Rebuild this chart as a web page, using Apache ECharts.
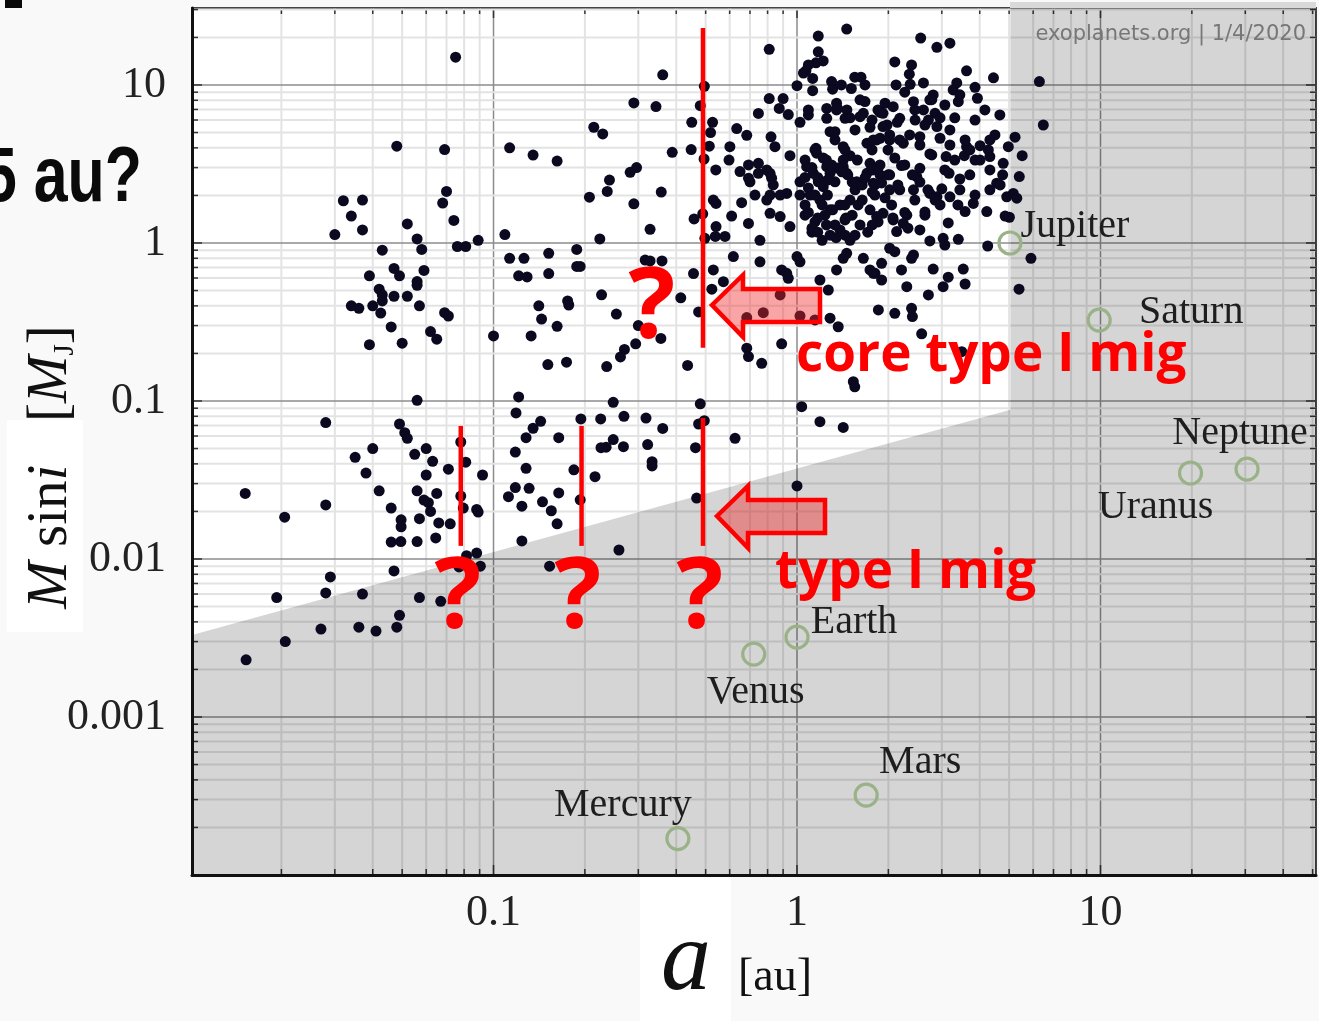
<!DOCTYPE html>
<html>
<head>
<meta charset="utf-8">
<script src="https://cdn.jsdelivr.net/npm/echarts@6/dist/echarts.min.js"></script>
<style>
  html, body { margin: 0; padding: 0; background: #f9f9f9; }
  #chart { width: 1319px; height: 1021px; }
</style>
</head>
<body>
<div id="chart"></div>
<script>
// Known exoplanets: [semi-major axis a (au), M sin i (Jupiter masses)]
const exoplanets = [
  [0.075,15],[0.048,4.1],[0.069,3.9],[0.032,1.85],[0.037,1.87],[0.034,1.48],[0.030,1.13],[0.037,1.21],[0.052,1.32],[0.070,2.12],
  [0.068,1.79],[0.074,1.39],[0.056,1.06],[0.058,0.91],[0.043,0.90],[0.076,0.95],[0.081,0.95],[0.089,1.04],[0.059,0.67],[0.047,0.69],
  [0.049,0.62],[0.039,0.62],[0.056,0.57],[0.056,0.54],[0.042,0.51],[0.043,0.47],[0.043,0.43],[0.047,0.46],[0.052,0.46],[0.034,0.40],
  [0.036,0.386],[0.040,0.40],[0.0425,0.36],[0.057,0.40],[0.069,0.362],[0.071,0.345],[0.046,0.294],[0.062,0.275],[0.065,0.246],[0.039,0.227],
  [0.050,0.232],[0.100,0.258],
  [0.056,0.101],[0.028,0.073],[0.049,0.0715],[0.051,0.063],[0.052,0.058],[0.078,0.055],[0.040,0.050],[0.060,0.050],[0.035,0.044],[0.055,0.046],
  [0.063,0.0415],[0.081,0.041],[0.038,0.035],[0.071,0.037],[0.060,0.034],[0.092,0.034],[0.0152,0.026],[0.042,0.027],[0.056,0.027],[0.065,0.026],
  [0.059,0.0236],[0.061,0.0227],[0.062,0.020],[0.078,0.025],[0.0795,0.021],[0.088,0.0206],[0.089,0.0198],[0.028,0.022],[0.0205,0.0184],[0.046,0.021],
  [0.057,0.018],[0.0496,0.0177],[0.0496,0.016],[0.066,0.0169],[0.072,0.0167],[0.046,0.0128],[0.0495,0.0129],[0.056,0.0129],[0.0645,0.0136],[0.0815,0.0105],
  [0.088,0.0109],[0.077,0.0089],[0.0905,0.009],[0.047,0.0084],[0.029,0.0077],[0.0193,0.0057],[0.028,0.0061],[0.037,0.006],[0.057,0.0057],[0.067,0.0054],
  [0.049,0.0044],[0.027,0.0036],[0.036,0.0037],[0.041,0.0035],[0.048,0.0037],[0.0206,0.003],[0.0153,0.0023],
  [0.361,11.6],[0.495,9.8],[0.29,7.7],[0.343,7.3],[0.48,7.4],[0.45,5.8],[0.527,5.8],[0.519,5.0],[0.214,5.4],[0.229,4.9],
  [0.113,4.0],[0.135,3.6],[0.162,3.3],[0.514,4.1],[0.448,3.9],[0.388,3.75],[0.494,3.4],[0.296,3.0],[0.282,2.8],[0.54,2.9],
  [0.241,2.5],[0.237,2.12],[0.357,2.1],[0.207,1.95],[0.29,1.77],[0.53,1.87],[0.541,1.78],[0.489,1.53],[0.458,1.42],[0.541,1.27],
  [0.538,1.10],[0.497,1.07],[0.328,1.22],[0.109,1.13],[0.224,1.06],[0.188,0.91],[0.113,0.80],[0.126,0.80],[0.152,0.86],[0.188,0.71],
  [0.193,0.71],[0.316,0.78],[0.328,0.77],[0.359,0.77],[0.121,0.62],[0.129,0.61],[0.152,0.64],[0.456,0.64],[0.524,0.51],[0.227,0.47],
  [0.414,0.45],[0.141,0.40],[0.1755,0.43],[0.177,0.405],[0.144,0.33],[0.162,0.297],[0.254,0.355],[0.474,0.366],[0.133,0.258],[0.30,0.30],
  [0.294,0.23],[0.356,0.249],[0.27,0.212],[0.262,0.19],
  [0.151,0.17],[0.174,0.176],[0.236,0.165],[0.436,0.168],[0.121,0.106],[0.1186,0.084],[0.248,0.098],[0.48,0.096],[0.143,0.0744],[0.135,0.0672],
  [0.194,0.077],[0.2255,0.077],[0.269,0.080],[0.318,0.078],[0.361,0.067],[0.474,0.0715],[0.495,0.075],[0.128,0.0586],[0.164,0.0586],[0.248,0.057],
  [0.235,0.051],[0.226,0.0506],[0.268,0.0514],[0.322,0.053],[0.463,0.0506],[0.118,0.0475],[0.333,0.0413],[0.333,0.0388],[0.128,0.0375],[0.184,0.0367],
  [0.216,0.0332],[0.118,0.0283],[0.131,0.028],[0.112,0.0248],[0.164,0.0262],[0.124,0.0216],[0.145,0.023],[0.155,0.0202],[0.193,0.0237],[0.162,0.0167],
  [0.467,0.0243],[0.124,0.013],[0.259,0.0114],[0.153,0.009],
  [1.458,22.6],[1.175,20.4],[0.81,16.8],[1.175,16.2],[1.22,14.2],[1.155,13.8],[1.09,13.4],[1.07,12.3],[1.05,11.9],[1.126,11.0],
  [1.0,9.9],[1.126,9.2],[1.30,10.5],[1.31,9.4],[1.40,10.0],[1.51,9.5],[1.55,11.2],[1.625,11.2],[1.675,10.0],[0.81,8.2],
  [0.90,8.2],[0.874,7.1],[0.936,6.5],[0.746,6.6],[1.023,5.8],[1.09,6.95],[1.09,6.46],[1.253,7.1],[1.253,6.15],[1.35,7.66],
  [1.35,6.95],[1.46,6.95],[1.44,6.15],[1.675,7.85],[1.654,6.62],[1.613,6.3],[1.285,5.06],[1.334,5.06],[0.633,5.3],[0.683,4.8],
  [0.821,4.7],[0.846,4.07],[0.601,4.07],[0.597,3.35],[0.948,3.57],[1.155,3.97],[1.16,3.7],[1.42,4.07],[1.495,3.57],[1.42,3.35],
  [1.70,4.28],[1.785,4.49],[1.877,4.6],[0.649,2.83],[0.692,3.12],[0.746,3.19],[0.795,2.9],[0.815,2.76],[0.692,2.57],[0.70,2.44],
  [0.746,2.76],[0.825,2.57],[0.835,2.33],[0.727,2.01],[0.815,2.01],[0.925,2.06],[1.023,2.44],[1.076,3.04],[1.132,2.76],[1.175,2.44],
  [1.22,2.27],[1.253,3.04],[1.285,2.76],[1.334,2.44],[1.42,3.04],[1.458,2.76],[1.573,2.44],[1.70,2.76],[1.74,3.19],[1.785,2.39],
  [0.657,1.80],[0.795,1.87],[0.88,2.01],[0.609,1.48],[0.692,1.33],[0.815,1.54],[0.88,1.47],[0.948,1.27],[0.579,1.10],[0.755,1.04],
  [1.023,2.01],[1.063,1.74],[1.104,2.01],[1.19,1.87],[1.285,1.62],[1.386,1.74],[1.063,1.50],[1.146,1.36],[1.236,1.50],[1.334,1.30],
  [1.439,1.40],[1.495,1.87],[1.12,1.17],[1.285,1.12],[1.439,1.12],
  [0.617,0.82],[0.755,0.76],[1.0,0.82],[1.023,0.76],[0.53,0.675],[0.89,0.675],[0.925,0.643],[0.936,0.598],[0.572,0.569],[1.19,0.583],
  [1.268,0.504],[1.35,0.675],[1.458,0.86],[1.42,0.80],[1.654,0.80],[1.74,0.675],[1.807,0.643],[0.88,0.469],[0.774,0.362],[0.683,0.337],
  [1.023,0.345],[1.146,0.326],[1.285,0.334],[1.367,0.295],[0.683,0.216],[0.692,0.191],[0.765,0.173],[0.89,0.23],[1.533,0.1325],[1.55,0.123],
  [1.036,0.092],[1.19,0.074],[1.42,0.068],[0.625,0.058],[1.0,0.029],
  [2.556,19.8],[2.89,17.3],[3.19,18.4],[2.10,14.0],[2.385,13.4],[2.345,11.7],[3.62,12.3],[4.44,11.1],[6.29,10.5],[6.48,5.58],
  [2.12,10.0],[2.36,10.1],[2.61,10.3],[3.36,10.3],[3.27,9.3],[3.40,7.84],[3.86,9.67],[3.93,8.24],[1.95,7.66],[2.075,7.29],
  [1.92,6.62],[2.42,7.84],[2.81,8.65],[2.78,8.07],[2.61,6.95],[2.85,6.62],[2.18,6.15],[2.45,6.0],[2.71,6.0],[2.89,5.45],
  [2.96,4.6],[1.92,5.45],[2.02,4.83],[2.18,4.49],[2.24,4.28],[1.83,4.49],[1.74,4.28],[2.54,4.71],[2.54,4.17],[2.74,3.66],
  [3.10,3.52],[3.62,4.07],[4.01,4.13],[4.32,4.49],[4.97,4.07],[5.23,4.67],[5.52,3.57],[3.56,3.57],[3.86,3.35],[4.32,3.52],
  [4.78,3.19],[2.21,3.09],[2.54,2.97],[2.48,2.63],[3.17,2.76],[3.44,2.54],[5.40,2.63],[4.55,2.39],[4.67,2.33],[4.91,1.96],
  [5.16,2.06],[1.767,3.88],[1.806,2.33],[1.848,6.95],[1.877,2.70],[1.98,5.58],[1.995,2.70],[2.02,2.17],[1.767,6.0],[1.877,3.12],
  [5.01,1.455],[5.90,0.80],[5.39,0.51],[4.25,0.957],[3.15,1.34],[3.40,1.055],[3.03,1.07],[3.07,0.97],[2.74,1.03],[2.64,1.50],
  [2.54,1.21],[2.24,1.33],[2.30,1.50],[2.13,1.18],[2.075,1.40],[1.92,1.54],[1.83,1.47],[3.58,1.58],[3.81,1.78],[4.22,1.58],
  [5.30,1.92],[4.85,1.48],[3.19,1.96],[2.89,1.96],[2.74,2.06],[2.42,2.17],[2.02,0.926],[2.10,0.881],[2.21,0.675],[2.42,0.84],
  [2.385,0.80],[1.90,0.744],[1.785,0.643],[1.90,0.583],[2.30,0.529],[2.81,0.684],[3.53,0.684],[3.58,0.55],[3.15,0.607],[3.03,0.529],
  [2.71,0.469],[1.854,0.377],[2.10,0.359],[2.385,0.386],[2.40,0.342],[2.575,0.266],[3.49,0.205],
  [1.063,3.35],[1.12,3.0],[1.17,2.6],[1.09,2.23],[1.146,2.01],[1.21,1.74],[1.09,1.56],[1.17,1.44],[1.25,1.30],[1.12,1.24],
  [1.21,1.04],[1.26,2.01],[1.26,2.5],[1.063,2.6],[1.25,3.35],
  [1.36,2.98],[1.47,2.7],[1.553,2.17],[1.64,1.87],[1.74,1.62],[1.806,2.01],[1.439,1.74],[1.52,1.5],[1.613,1.3],[1.71,1.17],
  [1.85,1.36],[1.386,1.21],[1.495,1.04],[1.64,2.33],[1.78,2.9],[1.9,2.4],[1.58,3.35],[1.439,3.88],[1.334,4.49],[1.553,5.19],
  [1.995,3.88],[2.10,3.45],[2.265,3.12],[2.4,2.7],[2.54,2.43],[2.7,2.17],[2.85,1.87],[3.0,2.2],[2.18,2.17],[2.05,1.74],
  [2.265,1.56],[2.445,1.87],[3.07,2.9],[3.31,3.35],[3.44,2.17],[3.71,2.7],[4.01,3.35],[4.32,2.9],[3.58,4.49],[3.19,5.19],
  [3.86,6.0],[4.49,4.83],[4.16,6.95],[4.66,6.46],
  [1.613,8.06],[1.877,6.7],[2.14,5.8],[2.445,6.95],[2.74,8.06],[3.07,7.47],[2.265,9.0],[1.74,5.4],[2.02,4.49],[2.35,4.83],
  [2.64,5.58],[2.96,6.2],[3.31,6.2],[3.44,8.66],[1.495,6.2],[1.36,7.1],
  [1.146,3.88],[1.22,3.45],[1.30,3.12],[1.405,2.82],[1.52,2.43],[1.675,2.58],[1.85,2.98],[2.02,2.70],[2.15,2.33],[1.95,1.93],
  [1.77,2.10],[1.59,1.74],[1.45,1.44],[1.31,1.62],[1.17,1.17],[1.345,1.08],[1.553,1.12],[1.77,1.30],[2.07,1.44],[2.32,1.24],
  [2.64,1.57],[2.96,1.74],[3.39,1.74],[3.86,2.01],[4.32,2.17],[4.76,2.70],[4.27,3.88],[3.71,3.88],[3.19,4.17],[2.78,3.61]
];

// Solar-system planets
const solarNames = ['Mercury', 'Venus', 'Earth', 'Mars', 'Jupiter', 'Saturn', 'Uranus', 'Neptune'];
const solarA = [0.405, 0.72, 1.0, 1.69, 5.03, 9.9, 19.8, 30.4];
const solarM = [0.00017, 0.0025, 0.0032, 0.00032, 1.0, 0.325, 0.035, 0.037];

// Vertices of the region hidden by the detection limit (shaded)
const limitA = [0.01015, 5.05, 5.05, 51.3, 51.3, 0.01015];
const limitM = [0.0033, 0.088, 30.7, 30.7, 0.0001, 0.0001];

// Red migration markers: a position with lower / upper mass extent
const markerA = [0.49, 0.078, 0.195, 0.49];
const markerLow = [0.217, 0.0121, 0.0121, 0.0121];
const markerHigh = [22.9, 0.0695, 0.0695, 0.078];

// Axis tick labels and grid decades
const xTickLabels = ['0.1', '1', '10'];
const yTickLabels = ['0.001', '0.01', '0.1', '1', '10'];
const xDecades = [0.01, 0.1, 1, 10];
const yDecades = [0.0001, 0.001, 0.01, 0.1, 1, 10];
const minorSteps = [2, 3, 4, 5, 6, 7, 8, 9];

const X_MIN = 0.01015, X_MAX = 51.3, Y_MIN = 0.0001, Y_MAX = 30.7;

const SERIF = 'Liberation Serif, Times New Roman, serif';
const SANS_BOLD = 'Open Sans, Liberation Sans, sans-serif';

// Label placement around each planet circle (pixels from circle centre)
const planetLabelOffset = {
  Mercury: [-55, -33], Venus: [2, 38], Earth: [57, -15], Mars: [54, -33],
  Jupiter: [65, -16], Saturn: [92, -8], Uranus: [-35, 34], Neptune: [-7, -36]
};

function gridValues(decades, lo, hi) {
  const out = [];
  decades.forEach(d => {
    out.push([d, 1]);
    minorSteps.forEach(k => out.push([d * k, 0]));
  });
  return out.filter(v => v[0] > lo * 1.001 && v[0] < hi * 0.999);
}
const xGrid = gridValues(xDecades, X_MIN, X_MAX);
const yGrid = gridValues(yDecades, Y_MIN, Y_MAX);

function tickText(v, list) {
  const l = Math.log10(v);
  const e = Math.round(l);
  if (Math.abs(l - e) > 1e-6) return '';
  const s = e >= 0 ? String(Math.pow(10, e)) : Math.pow(10, e).toFixed(-e);
  return list.indexOf(s) >= 0 ? s : '';
}

const chart = echarts.init(document.getElementById('chart'), null, { renderer: 'canvas' });

const MINOR_COLOR = '#e3e3e3', MAJOR_COLOR = '#8c8c8c', TICK_COLOR = '#333';

const option = {
  backgroundColor: '#f9f9f9',
  animation: false,
  grid: {
    left: 192, right: 3, top: 8, bottom: 146,
    show: true, backgroundColor: '#ffffff', borderColor: '#444', borderWidth: 2,
    containLabel: false, outerBoundsMode: 'none'
  },
  xAxis: {
    type: 'log', logBase: 10, min: X_MIN, max: X_MAX, z: 10,
    axisLine: { show: true, onZero: false, lineStyle: { color: '#111', width: 3 } },
    axisTick: { show: false }, splitLine: { show: false }, minorTick: { show: false },
    axisLabel: {
      formatter: v => tickText(v, xTickLabels),
      fontFamily: SERIF, fontSize: 44, color: '#222', margin: 16
    }
  },
  yAxis: {
    type: 'log', logBase: 10, min: Y_MIN, max: Y_MAX, z: 10,
    axisLine: { show: true, onZero: false, lineStyle: { color: '#111', width: 3 } },
    axisTick: { show: false }, splitLine: { show: false }, minorTick: { show: false },
    axisLabel: {
      formatter: v => tickText(v, yTickLabels),
      fontFamily: SERIF, fontSize: 44, color: '#222', margin: 26
    }
  },
  series: [
    {
      // vertical grid lines with ticks on top and bottom frame
      type: 'custom', z: 1, silent: true,
      data: xGrid.map(g => [g[0], 1, g[1]]),
      encode: { x: 0, y: 1 },
      renderItem: (params, api) => {
        const cs = params.coordSys;
        const x = api.coord([api.value(0), 1])[0];
        const major = api.value(2) === 1;
        const top = cs.y, bot = cs.y + cs.height, len = major ? 10 : 6;
        return { type: 'group', children: [
          { type: 'line', shape: { x1: x, y1: top, x2: x, y2: bot },
            style: { stroke: major ? MAJOR_COLOR : MINOR_COLOR, lineWidth: major ? 1.5 : 2 } },
          { type: 'line', shape: { x1: x, y1: bot, x2: x, y2: bot - len }, style: { stroke: TICK_COLOR, lineWidth: 1.5 } },
          { type: 'line', shape: { x1: x, y1: top, x2: x, y2: top + len }, style: { stroke: TICK_COLOR, lineWidth: 1.5 } }
        ] };
      }
    },
    {
      // horizontal grid lines with ticks on left and right frame
      type: 'custom', z: 1, silent: true,
      data: yGrid.map(g => [1, g[0], g[1]]),
      encode: { x: 0, y: 1 },
      renderItem: (params, api) => {
        const cs = params.coordSys;
        const y = api.coord([1, api.value(1)])[1];
        const major = api.value(2) === 1;
        const left = cs.x, right = cs.x + cs.width, len = major ? 10 : 6;
        return { type: 'group', children: [
          { type: 'line', shape: { x1: left, y1: y, x2: right, y2: y },
            style: { stroke: major ? MAJOR_COLOR : MINOR_COLOR, lineWidth: major ? 1.5 : 2 } },
          { type: 'line', shape: { x1: left, y1: y, x2: left + len, y2: y }, style: { stroke: TICK_COLOR, lineWidth: 1.5 } },
          { type: 'line', shape: { x1: right, y1: y, x2: right - len, y2: y }, style: { stroke: TICK_COLOR, lineWidth: 1.5 } }
        ] };
      }
    },
    {
      // region below the detection limit
      type: 'custom', z: 2, silent: true,
      data: [[limitA[0], limitM[0]]],
      encode: { x: 0, y: 1 },
      renderItem: (params, api) => ({
        type: 'polygon',
        shape: { points: limitA.map((a, i) => api.coord([a, limitM[i]])) },
        style: { fill: 'rgba(0,0,0,0.165)' }
      })
    },
    {
      name: 'exoplanets', type: 'scatter', z: 3, silent: true,
      symbol: 'circle', symbolSize: 11,
      itemStyle: { color: '#0a0920', opacity: 1 },
      data: exoplanets
    },
    {
      // red migration markers
      type: 'custom', z: 4, silent: true,
      data: markerA.map((a, i) => [a, markerLow[i], markerHigh[i]]),
      encode: { x: 0, y: [1, 2] },
      renderItem: (params, api) => {
        const p1 = api.coord([api.value(0), api.value(1)]);
        const p2 = api.coord([api.value(0), api.value(2)]);
        return { type: 'line', shape: { x1: p1[0], y1: p1[1], x2: p2[0], y2: p2[1] },
          style: { stroke: '#ff0000', lineWidth: 4.5 } };
      }
    },
    {
      name: 'Solar System', type: 'scatter', z: 5, silent: true,
      symbol: 'circle', symbolSize: 22,
      itemStyle: { color: 'rgba(0,0,0,0)', borderColor: '#9ab287', borderWidth: 3.2, opacity: 1 },
      label: { show: true, position: 'inside', formatter: '{b}', fontFamily: SERIF, fontSize: 40, color: '#1e1e1e' },
      data: solarNames.map((n, i) => ({ name: n, value: [solarA[i], solarM[i]], label: { offset: planetLabelOffset[n] } }))
    }
  ],
  graphic: [
    { type: 'rect', z: 50, shape: { x: 5, y: 0, width: 17, height: 8 }, style: { fill: '#0a0a0a' } },
    // shaded band continues just above the frame
    { type: 'rect', z: 50, shape: { x: 1010, y: 2, width: 306, height: 6 }, style: { fill: '#d9d9d9' } },
    { type: 'text', z: 50, x: -17, y: 179, scaleX: 0.78,
      style: { text: '5 au?', fontFamily: 'Liberation Sans, Arial, sans-serif', fontWeight: 'bold', fontSize: 78,
        fill: '#0a0a0a', align: 'left', verticalAlign: 'middle' } },
    // axis titles
    { type: 'rect', z: 50, shape: { x: 7, y: 420, width: 76, height: 212 }, style: { fill: '#ffffff' } },
    { type: 'text', z: 51, x: 51, y: 467, rotation: Math.PI / 2,
      style: {
        text: '{it|M} {rm|sin}{it|i}   {rm|[}{it|M}{sub|J}{rm|]}',
        align: 'center', verticalAlign: 'middle', fill: '#111',
        fontFamily: SERIF, fontSize: 57,
        rich: {
          it: { fontFamily: SERIF, fontSize: 57, fontStyle: 'italic', fill: '#111' },
          rm: { fontFamily: SERIF, fontSize: 57, fill: '#111' },
          sub: { fontFamily: SERIF, fontSize: 29, fill: '#111', verticalAlign: 'bottom' }
        }
      } },
    { type: 'rect', z: 50, shape: { x: 640, y: 877, width: 91, height: 144 }, style: { fill: '#ffffff' } },
    { type: 'text', z: 51, x: 686, y: 963,
      style: { text: 'a', fontFamily: SERIF, fontStyle: 'italic', fontSize: 100, fill: '#111', align: 'center', verticalAlign: 'middle' } },
    { type: 'text', z: 51, x: 738, y: 978,
      style: { text: '[au]', fontFamily: SERIF, fontSize: 46, fill: '#111', align: 'left', verticalAlign: 'middle' } },
    // data source stamp
    { type: 'text', z: 51, x: 1306, y: 35,
      style: { text: 'exoplanets.org | 1/4/2020', fontFamily: 'DejaVu Sans, Verdana, sans-serif', fontSize: 21,
        fill: '#777777', align: 'right', verticalAlign: 'middle' } },
    // arrows
    { type: 'polygon', z: 60,
      shape: { points: [[712, 305], [743, 275], [743, 289], [820, 289], [820, 322], [743, 322], [743, 337]] },
      style: { fill: 'rgba(240,40,40,0.42)', stroke: '#ff0000', lineWidth: 4.5, lineJoin: 'miter' } },
    { type: 'polygon', z: 60,
      shape: { points: [[717, 516], [748, 486], [748, 500], [825, 500], [825, 533], [748, 533], [748, 548]] },
      style: { fill: 'rgba(240,40,40,0.42)', stroke: '#ff0000', lineWidth: 4.5, lineJoin: 'miter' } },
    // annotation text
    { type: 'text', z: 61, x: 796, y: 356,
      style: { text: 'core type I mig', fontFamily: SANS_BOLD, fontWeight: 'bold', fontSize: 53, fill: '#ff0000', align: 'left', verticalAlign: 'middle' } },
    { type: 'text', z: 61, x: 775, y: 573,
      style: { text: 'type I mig', fontFamily: SANS_BOLD, fontWeight: 'bold', fontSize: 53, fill: '#ff0000', align: 'left', verticalAlign: 'middle' } },
    { type: 'text', z: 61, x: 652, y: 310,
      style: { text: '?', fontFamily: SANS_BOLD, fontWeight: 'bold', fontSize: 98, fill: '#ff0000', align: 'center', verticalAlign: 'middle' } },
    { type: 'text', z: 61, x: 458, y: 600,
      style: { text: '?', fontFamily: SANS_BOLD, fontWeight: 'bold', fontSize: 98, fill: '#ff0000', align: 'center', verticalAlign: 'middle' } },
    { type: 'text', z: 61, x: 578, y: 600,
      style: { text: '?', fontFamily: SANS_BOLD, fontWeight: 'bold', fontSize: 98, fill: '#ff0000', align: 'center', verticalAlign: 'middle' } },
    { type: 'text', z: 61, x: 700, y: 600,
      style: { text: '?', fontFamily: SANS_BOLD, fontWeight: 'bold', fontSize: 98, fill: '#ff0000', align: 'center', verticalAlign: 'middle' } }
  ]
};

chart.setOption(option);
</script>
</body>
</html>
